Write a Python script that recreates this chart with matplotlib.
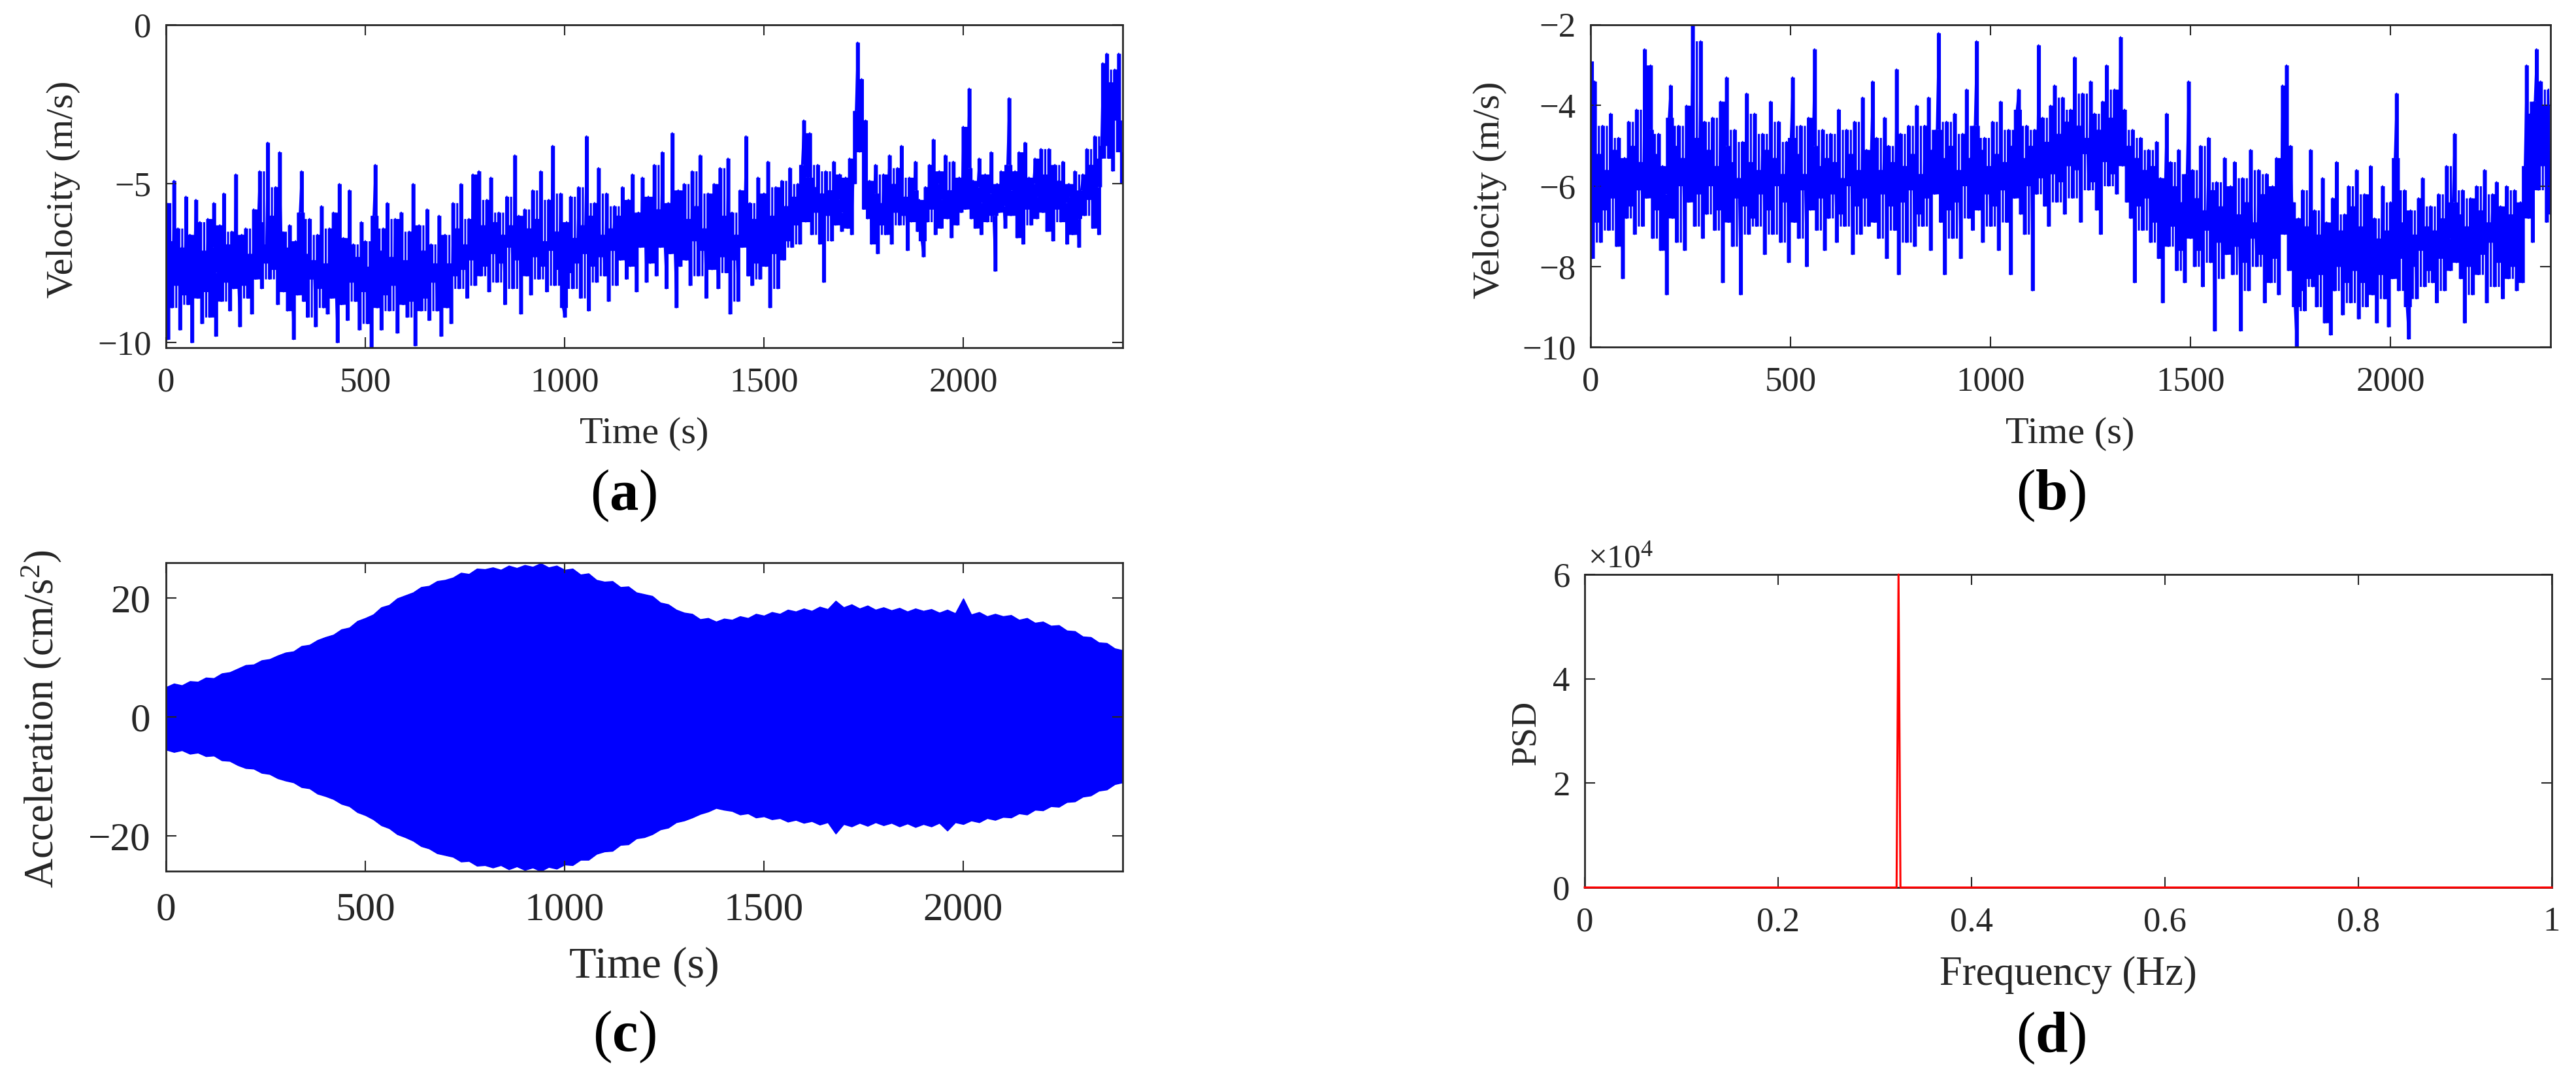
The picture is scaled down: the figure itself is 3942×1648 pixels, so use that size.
import numpy as np
import matplotlib
matplotlib.use('Agg')
import matplotlib.pyplot as plt

plt.rcParams['font.family'] = ['Liberation Serif', 'DejaVu Serif']
plt.rcParams['mathtext.fontset'] = 'custom'
plt.rcParams['mathtext.rm'] = 'Liberation Serif'
plt.rcParams['mathtext.it'] = 'Liberation Serif:italic'
plt.rcParams['mathtext.bf'] = 'Liberation Serif:bold'

# ---------------- data ----------------
vel_step = 5  # s
vel_a = [
    -5.6, -9.9, -6.8, -8.9, -4.9, -8.2, -6.4, -9.6, -7.0, -8.5, -5.4, -8.8, -6.6, -10.0, -7.3, -5.5, -8.6, -6.2, -9.4, -7.1,
    -8.4, -6.1, -9.2, -7.0, -5.6, -9.8, -7.8, -6.3, -8.7, -5.3, -8.1, -6.9, -9.0, -6.5, -8.3, -4.7, -7.9, -9.5, -6.6, -8.2,
    -6.4, -8.6, -7.2, -9.1, -5.8, -8.0, -6.2, -4.6, -8.3, -6.9, -7.5, -3.7, -8.0, -6.0, -7.7, -5.1, -8.8, -4.0, -6.5, -8.4,
    -7.0, -9.0, -6.3, -8.2, -9.9, -6.8, -8.5, -5.9, -4.6, -8.7, -7.2, -9.2, -6.1, -8.0, -7.4, -9.5, -6.6, -8.3, -5.7, -8.9,
    -7.5, -9.1, -6.4, -8.6, -5.9, -8.2, -10.0, -5.0, -8.8, -6.7, -7.9, -9.3, -5.2, -8.1, -6.9, -8.7, -7.3, -9.6, -6.2, -8.4,
    -6.8, -9.4, -7.6, -10.2, -6.0, -4.4, -8.9, -7.1, -9.6, -6.4, -8.5, -5.6, -9.0, -7.3, -8.2, -6.1, -9.7, -7.6, -5.9, -8.8,
    -7.4, -9.2, -6.5, -8.7, -5.0, -10.1, -7.8, -6.3, -9.0, -7.1, -8.6, -5.8, -9.3, -6.9, -8.1, -7.5, -9.0, -6.0, -9.8, -7.7,
    -6.6, -8.9, -7.5, -9.4, -5.6, -7.9, -6.4, -8.3, -5.0, -7.7, -6.9, -8.6, -6.1, -7.4, -4.7, -8.2, -6.7, -4.6, -7.9, -6.3,
    -7.6, -5.5, -8.4, -4.8, -7.2, -6.2, -8.1, -5.9, -7.5, -6.6, -8.8, -5.4, -7.0, -6.3, -8.3, -4.1, -7.4, -6.0, -9.1, -6.8,
    -5.8, -7.9, -6.4, -8.5, -5.2, -7.3, -6.1, -8.0, -4.6, -7.6, -6.8, -8.4, -5.5, -7.1, -3.8, -8.2, -6.5, -7.7, -5.3, -8.9,
    -9.2, -6.2, -7.8, -5.4, -8.3, -6.7, -7.5, -5.1, -8.6, -6.3, -7.2, -3.5, -9.0, -6.0, -7.6, -5.6, -8.1, -4.5, -7.3, -6.6,
    -7.9, -5.3, -8.7, -6.4, -7.1, -5.7, -8.2, -6.0, -7.4, -5.1, -6.9, -8.0, -5.5, -7.6, -4.7, -6.3, -8.4, -5.9, -7.0, -4.8,
    -6.2, -8.1, -5.4, -7.5, -6.6, -4.4, -7.9, -5.8, -7.0, -4.0, -6.8, -8.3, -5.6, -7.2, -3.4, -6.9, -8.9, -5.2, -7.6, -6.1,
    -5.0, -7.4, -6.1, -8.2, -4.6, -6.8, -5.7, -7.9, -4.1, -7.1, -6.4, -8.6, -5.3, -6.6, -7.7, -5.0, -6.9, -8.3, -4.5, -7.3,
    -6.0, -7.8, -4.2, -9.1, -5.9, -7.4, -6.6, -8.7, -5.2, -7.0, -6.3, -3.5, -7.9, -5.6, -8.2, -6.1, -7.5, -4.8, -8.0, -6.4,
    -5.3, -7.6, -4.3, -8.9, -6.0, -7.2, -5.1, -8.3, -6.5, -4.9, -7.4, -5.7, -6.8, -4.5, -7.0, -5.4, -6.3, -5.0, -6.9, -4.4,
    -3.0, -6.2, -4.8, -3.4, -6.6, -5.1, -5.9, -4.4, -6.9, -5.3, -8.1, -4.6, -6.0, -5.2, -6.8, -4.3, -6.3, -5.5, -4.7, -6.5,
    -5.9, -4.8, -6.4, -4.2, -6.6, -5.0, -2.7, -0.55, -4.0, -1.7, -5.8, -3.0, -6.1, -4.9, -6.9, -5.3, -4.4, -7.2, -5.6, -6.3,
    -4.7, -6.6, -5.3, -4.1, -6.9, -5.0, -5.9, -4.5, -6.3, -3.8, -6.0, -5.4, -7.1, -4.8, -6.2, -5.2, -4.3, -6.5, -5.5, -6.8,
    -7.3, -5.1, -6.2, -4.4, -5.8, -3.6, -6.6, -5.0, -4.6, -6.4, -5.5, -4.1, -6.1, -5.2, -6.7, -4.3, -5.7, -6.3, -4.8, -5.9,
    -3.2, -5.8, -4.5, -2.0, -6.1, -4.9, -6.4, -5.1, -4.2, -6.6, -5.6, -4.7, -6.2, -5.3, -4.0, -6.0, -7.75, -5.0, -5.9, -4.6,
    -5.7, -6.4, -4.4, -2.3, -6.0, -5.2, -4.6, -6.7, -4.0, -5.5, -6.9, -3.7, -5.8, -4.8, -6.3, -5.0, -4.2, -6.1, -5.4, -3.9,
    -5.9, -4.7, -6.5, -3.9, -5.5, -6.8, -4.4, -5.8, -4.9, -6.2, -4.3, -5.6, -6.9, -5.0, -5.4, -6.6, -4.6, -6.1, -7.0, -5.2,
    -4.7, -6.0, -3.9, -5.5, -4.4, -6.4, -3.5, -5.1, -6.6, -4.2, -1.2, -3.8, -0.9, -4.2, -1.8, -4.6, -1.4, -3.0, -0.9, -4.0,
    -5.0,
]
vel_b = [
    -2.9, -7.8, -3.4, -6.9, -5.2, -7.4, -4.5, -6.6, -5.6, -7.1, -4.2, -6.3, -5.1, -7.5, -4.8, -6.0, -8.3, -5.3, -6.8, -4.4,
    -6.5, -5.0, -7.2, -4.1, -6.1, -5.4, -7.0, -2.6, -6.3, -4.6, -3.0, -7.3, -5.2, -6.6, -4.7, -7.6, -5.5, -6.2, -8.7, -4.3,
    -3.5, -6.8, -5.0, -7.4, -4.5, -6.0, -5.3, -7.6, -4.0, -6.4, -5.6, -2.0, -7.0, -4.8, -6.2, -2.4, -7.3, -4.4, -6.7, -5.1,
    -6.0, -4.3, -7.1, -5.5, -6.6, -3.9, -8.4, -5.0, -3.3, -6.9, -5.4, -7.5, -4.6, -6.3, -5.8, -8.7, -4.9, -6.5, -3.7, -7.2,
    -5.4, -6.8, -4.2, -7.0, -5.6, -6.2, -4.7, -7.7, -5.1, -6.6, -3.9, -7.2, -5.3, -6.0, -4.4, -7.4, -5.7, -6.4, -4.9, -7.9,
    -4.8, -3.3, -6.9, -5.2, -7.3, -4.5, -6.1, -5.7, -8.0, -4.3, -6.6, -5.0, -2.6, -7.1, -5.5, -6.3, -4.6, -7.6, -5.3, -6.8,
    -4.7, -6.2, -5.4, -7.4, -4.1, -6.7, -5.8, -7.0, -4.6, -6.0, -5.2, -7.7, -4.4, -6.5, -5.6, -7.2, -3.8, -6.3, -5.1, -7.0,
    -5.3, -3.4, -6.9, -4.8, -7.3, -5.6, -6.2, -4.3, -7.8, -5.0, -6.5, -5.4, -7.1, -3.1, -8.2, -4.7, -6.4, -5.5, -7.4, -4.5,
    -6.1, -5.2, -7.5, -4.0, -6.7, -5.7, -7.0, -4.5, -6.3, -3.8, -7.6, -5.1, -6.2, -4.6, -2.2, -6.9, -5.3, -8.2, -4.4, -6.6,
    -5.0, -7.3, -4.2, -6.4, -5.6, -7.8, -4.7, -6.0, -3.6, -6.8, -5.3, -7.1, -4.5, -2.4, -6.6, -5.1, -7.4, -4.8, -6.2, -5.5,
    -7.0, -4.4, -6.5, -5.2, -7.6, -3.9, -6.1, -5.4, -6.9, -4.6, -8.2, -5.0, -6.3, -4.1, -3.6, -6.7, -5.3, -7.2, -4.5, -6.0,
    -5.0, -8.6, -4.6, -6.2, -2.5, -5.8, -4.3, -6.5, -4.9, -7.0, -4.0, -5.7, -3.5, -6.4, -4.7, -5.9, -3.8, -6.7, -4.4, -5.5,
    -4.1, -6.3, -2.8, -5.6, -4.5, -6.9, -3.7, -5.2, -4.8, -6.1, -3.4, -5.9, -4.2, -6.6, -4.6, -7.2, -3.9, -5.4, -3.0, -6.0,
    -4.3, -5.7, -3.6, -6.2, -4.9, -2.3, -5.5, -4.1, -6.4, -5.0, -6.8, -4.6, -8.4, -5.3, -6.5, -4.8, -7.1, -5.6, -6.3, -5.1,
    -7.4, -5.5, -6.9, -4.9, -7.8, -5.8, -8.9, -6.2, -4.2, -7.5, -5.4, -7.0, -6.0, -8.1, -5.1, -7.6, -6.4, -8.4, -5.7, -3.4,
    -7.3, -5.6, -8.0, -6.3, -7.6, -5.0, -8.5, -6.6, -7.1, -4.8, -7.9, -6.1, -9.6, -5.9, -7.4, -6.5, -8.3, -5.3, -7.7, -6.8,
    -6.0, -8.2, -5.4, -7.5, -6.7, -9.6, -5.8, -7.9, -6.4, -8.6, -5.1, -7.3, -6.9, -8.0, -5.6, -7.7, -6.2, -8.9, -5.7, -7.1,
    -8.4, -6.0, -7.8, -5.3, -8.7, -6.5, -3.5, -7.2, -3.0, -8.1, -5.0, -6.4, -9.0, -10.0, -6.8, -8.6, -6.1, -9.1, -7.0, -8.3,
    -5.1, -8.5, -6.6, -9.0, -7.2, -8.2, -5.8, -9.4, -6.9, -7.9, -9.7, -6.3, -8.6, -5.4, -8.0, -7.1, -9.2, -6.7, -8.4, -6.0,
    -8.9, -6.5, -8.1, -5.6, -9.3, -7.0, -8.4, -6.2, -9.0, -7.4, -5.5, -8.7, -6.8, -9.4, -7.3, -8.2, -6.0, -8.8, -7.1, -9.5,
    -6.4, -8.3, -5.3, -3.7, -8.6, -6.9, -7.8, -6.1, -9.0, -9.8, -6.6, -8.0, -7.2, -8.8, -6.3, -7.6, -5.8, -8.5, -7.0, -8.1,
    -6.5, -8.4, -7.1, -8.9, -6.2, -7.8, -6.8, -8.6, -5.5, -7.3, -8.1, -6.4, -4.7, -7.9, -6.7, -8.3, -6.1, -9.4, -7.0, -8.0,
    -6.3, -8.7, -7.2, -6.0, -8.2, -6.6, -7.7, -5.6, -8.9, -6.9, -7.4, -6.2, -8.5, -5.9, -7.9, -6.5, -8.8, -7.1, -6.0, -8.3,
    -6.7, -8.0, -6.1, -8.6, -7.0, -6.4, -8.4, -5.5, -3.0, -6.8, -4.2, -7.4, -3.9, -2.6, -6.1, -3.4, -5.5, -4.0, -6.9, -3.6,
    -6.7,
]
acc_step = 20  # s
acc_upper = [
    5.0, 5.6, 5.3, 6.0, 5.9, 6.6, 6.5, 7.3, 7.5, 8.1,
    8.7, 8.8, 9.5, 9.7, 10.3, 10.8, 11.0, 11.9, 12.1, 12.9,
    13.4, 13.8, 14.7, 15.0, 16.1, 16.6, 17.2, 18.4, 18.8, 19.9,
    20.4, 20.9, 21.8, 22.0, 22.8, 23.0, 23.4, 24.2, 24.0, 24.9,
    24.8, 25.1, 24.7, 25.4, 25.0, 25.5, 25.2, 25.8, 25.1, 25.4,
    24.7, 24.9, 23.9, 24.1, 23.0, 22.7, 22.8, 21.8, 21.9, 20.9,
    20.6, 20.3, 19.2, 18.9, 18.0, 17.5, 17.3, 16.4, 16.6, 16.0,
    16.5, 16.3, 16.9, 16.6, 17.3, 17.0, 17.6, 17.3, 18.0, 17.7,
    18.2, 17.8, 18.5, 18.1, 19.5, 18.4, 18.9, 18.2, 18.7, 18.0,
    18.4, 17.9, 18.3, 17.7, 18.2, 17.8, 18.1, 17.5, 18.0, 17.4,
    19.9, 17.2, 17.6, 16.9, 17.3, 16.9, 17.1, 16.3, 16.6, 15.8,
    16.0, 15.3, 15.4, 14.5, 14.4, 13.5, 13.4, 12.5, 12.4, 11.5,
    11.2,
]
acc_lower = [
    -5.5, -5.9, -5.6, -6.2, -6.0, -6.6, -6.5, -7.3, -7.4, -8.1,
    -8.6, -8.7, -9.4, -9.6, -10.3, -10.7, -11.0, -11.8, -12.0, -12.9,
    -13.3, -13.8, -14.6, -15.0, -16.0, -16.5, -17.2, -18.2, -18.7, -19.7,
    -20.2, -20.8, -21.7, -22.1, -22.9, -23.2, -23.5, -24.3, -24.2, -25.0,
    -24.9, -25.3, -24.9, -25.6, -25.1, -25.7, -25.3, -25.9, -25.2, -25.5,
    -24.8, -24.9, -24.0, -24.0, -23.0, -22.6, -22.5, -21.5, -21.4, -20.4,
    -20.2, -19.7, -18.9, -18.6, -17.7, -17.4, -16.9, -16.3, -15.9, -15.3,
    -15.6, -15.8, -16.4, -16.2, -16.9, -16.7, -17.2, -17.0, -17.6, -17.3,
    -17.8, -17.5, -18.1, -17.7, -19.6, -18.0, -18.4, -17.8, -18.3, -17.7,
    -18.2, -17.8, -18.4, -17.9, -18.5, -18.0, -18.4, -17.8, -19.1, -17.7,
    -18.0, -17.4, -17.7, -17.0, -17.3, -16.8, -16.9, -16.2, -16.4, -15.6,
    -15.7, -15.0, -15.1, -14.3, -14.2, -13.4, -13.2, -12.4, -12.2, -11.3,
    -11.0,
]
psd_freq = [0.0, 0.3225, 0.3245, 0.3265, 1.0]
psd_val = [0.0, 0.0, 6.0e4, 0.0, 0.0]

time_ticks = [0, 500, 1000, 1500, 2000]
time_tick_labels = ['0', '500', '1000', '1500', '2000']
vel_a_ticks = [-10, -5, 0]
vel_a_tick_labels = ['\u221210', '\u22125', '0']
vel_b_ticks = [-10, -8, -6, -4, -2]
vel_b_tick_labels = ['\u221210', '\u22128', '\u22126', '\u22124', '\u22122']
acc_ticks = [-20, 0, 20]
acc_tick_labels = ['\u221220', '0', '20']
freq_ticks = [0, 0.2, 0.4, 0.6, 0.8, 1.0]
freq_tick_labels = ['0', '0.2', '0.4', '0.6', '0.8', '1']
psd_ticks = [0, 2e4, 4e4, 6e4]
psd_tick_labels = ['0', '2', '4', '6']

# ---------------- figure ----------------
W, H = 3942, 1648
DPI = 100
fig = plt.figure(figsize=(W / DPI, H / DPI), dpi=DPI)
INK = '#262626'
BLUE = (0, 0, 1)


def add_axes(l, t, r, b):
    return fig.add_axes([l / W, 1 - b / H, (r - l) / W, (b - t) / H])


def ftext(x, y, s, **kw):
    kw.setdefault('color', INK)
    fig.text(x / W, 1 - y / H, s, **kw)


def style(ax, fs, padx, pady):
    ax.tick_params(which='both', direction='in', length=11.5, width=1.5,
                   colors=INK, labelsize=fs, top=True, right=True)
    ax.tick_params(axis='x', pad=padx)
    ax.tick_params(axis='y', pad=pady)
    for s in ax.spines.values():
        s.set_linewidth(2.0)
        s.set_color(INK)
        s.set_zorder(2.5)


def dense_trace(ax, t, v):
    """Draw a densely sampled trace: the solid core of the signal (range of
    the window after dropping single-sample extremes), the span swept
    between consecutive samples, and the line itself."""
    t = np.asarray(t, float)
    v = np.asarray(v, float)
    padded = np.pad(v, 2, mode='edge')
    win = np.sort(np.lib.stride_tricks.sliding_window_view(padded, 5), axis=1)
    ax.fill_between(t, win[:, 1], win[:, 3], step='mid', color=BLUE, lw=0)
    lo = np.minimum(v[:-1], v[1:])
    hi = np.maximum(v[:-1], v[1:])
    ax.fill_between(t[:-1], lo, hi, step='post', color=BLUE, lw=0)
    ax.plot(t, v, color=BLUE, lw=1.6)


ax_a = add_axes(254, 38, 1718, 532)
ax_b = add_axes(2434, 38, 3903, 531)
ax_c = add_axes(254, 861, 1718, 1333)
ax_d = add_axes(2425, 879, 3905, 1358)

t_vel_a = np.arange(len(vel_a)) * vel_step
t_vel_b = np.arange(len(vel_b)) * vel_step
t_acc = np.arange(len(acc_upper)) * acc_step

dense_trace(ax_a, t_vel_a, vel_a)
ax_a.set_xlim(0, 2400)
ax_a.set_ylim(-10.16, 0)
ax_a.set_xticks(time_ticks, time_tick_labels)
ax_a.set_yticks(vel_a_ticks, vel_a_tick_labels)
style(ax_a, 38, 21, 16)

dense_trace(ax_b, t_vel_b, vel_b)
ax_b.set_xlim(0, 2400)
ax_b.set_ylim(-10, -2)
ax_b.set_xticks(time_ticks, time_tick_labels)
ax_b.set_yticks(vel_b_ticks, vel_b_tick_labels)
style(ax_b, 38, 21, 16)

ax_c.fill_between(t_acc, acc_lower, acc_upper, color=BLUE, lw=1.0, edgecolor=BLUE)
ax_c.set_xlim(0, 2400)
ax_c.set_ylim(-25.9, 25.9)
ax_c.set_xticks(time_ticks, time_tick_labels)
ax_c.set_yticks(acc_ticks, acc_tick_labels)
style(ax_c, 44, 23, 17)

ax_d.plot(psd_freq, psd_val, color=(1, 0, 0), lw=2.2, zorder=3, clip_on=False)
ax_d.set_xlim(0, 1)
ax_d.set_ylim(0, 6e4)
ax_d.set_xticks(freq_ticks, freq_tick_labels)
ax_d.set_yticks(psd_ticks, psd_tick_labels)
style(ax_d, 38, 21, 16)

# axis labels and panel letters
ftext(986, 678, 'Time (s)', ha='center', va='baseline', fontsize=42)
ftext(3168, 678, 'Time (s)', ha='center', va='baseline', fontsize=42)
ftext(986, 1496, 'Time (s)', ha='center', va='baseline', fontsize=49)
ftext(3165, 1507, 'Frequency (Hz)', ha='center', va='baseline', fontsize=45)

ftext(97, 290, 'Velocity (m/s)', ha='center', va='center', rotation=90, fontsize=42)
ftext(2280, 291, 'Velocity (m/s)', ha='center', va='center', rotation=90, fontsize=42)
ftext(64, 1100, 'Acceleration (cm/s$^{2}$)', ha='center', va='center', rotation=90, fontsize=45)
ftext(2336, 1121, 'PSD', ha='center', va='center', rotation=90, fontsize=39)
ftext(2430, 868, '\u00d710$^{4}$', ha='left', va='baseline', fontsize=37)

ftext(954, 780, r'($\mathbf{a}$)', ha='center', va='baseline', fontsize=64, color='black')
ftext(3138, 780, r'($\mathbf{b}$)', ha='center', va='baseline', fontsize=64, color='black')
ftext(955, 1608, r'($\mathbf{c}$)', ha='center', va='baseline', fontsize=64, color='black')
ftext(3138, 1610, r'($\mathbf{d}$)', ha='center', va='baseline', fontsize=64, color='black')

fig.savefig('out.png', dpi=DPI, facecolor='white')
